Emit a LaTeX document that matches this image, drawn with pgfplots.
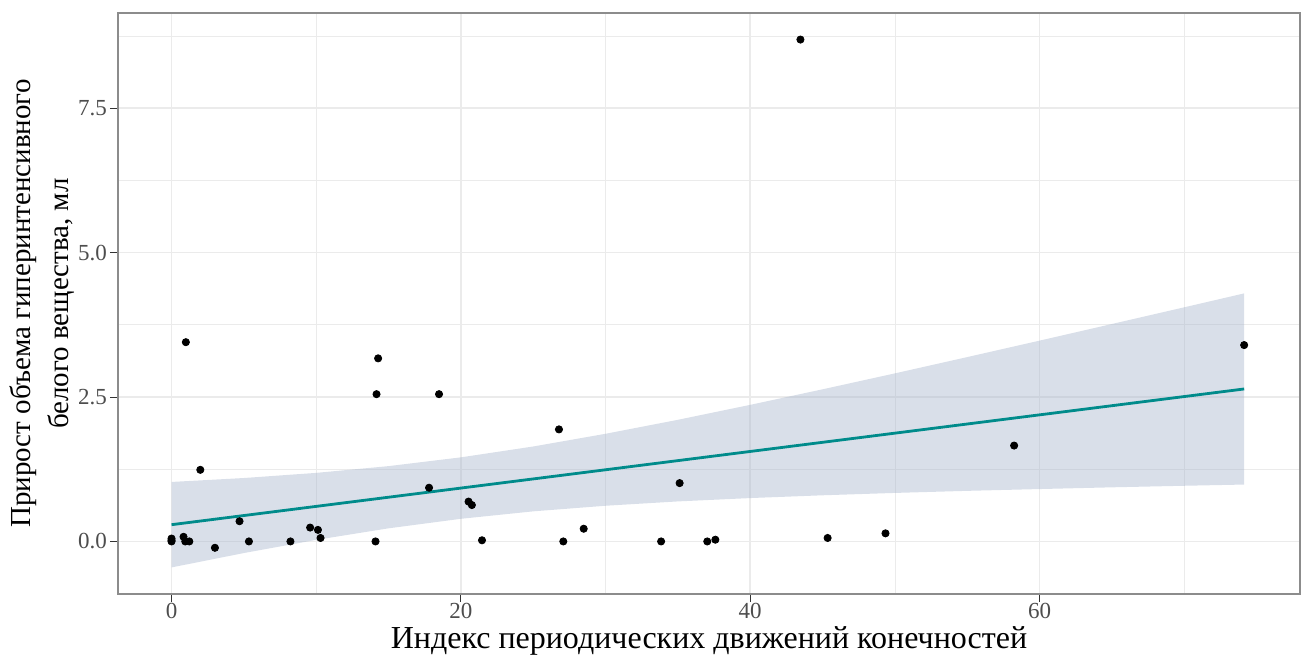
\documentclass[border=0pt]{standalone}
\usepackage{fontspec}
\setmainfont{Liberation Serif}
\usepackage{pgfplots}
\pgfplotsset{compat=1.18}
\definecolor{ribbon}{RGB}{160,175,200}
\definecolor{fitline}{RGB}{0,139,139}
\definecolor{grid92}{RGB}{235,235,235}
\definecolor{grey30}{RGB}{77,77,77}
\definecolor{grey20}{RGB}{51,51,51}
\begin{document}
\begin{tikzpicture}
\begin{axis}[
  scale only axis, width=591pt, height=290.5pt,
  xmin=-3.7, xmax=78, ymin=-0.91, ymax=9.15,
  xtick={0,20,40,60}, ytick={0,2.5,5,7.5},
  minor xtick={10,30,50,70}, minor ytick={1.25,3.75,6.25,8.75},
  xtick pos=bottom, ytick pos=left,
  grid=both,
  major grid style={grid92, line width=0.8pt},
  minor grid style={grid92, line width=0.4pt},
  axis line style={black!45, line width=0.7pt},
  tick align=outside, major tick length=4pt, minor tick length=0pt,
  tick style={grey20, line width=0.5pt},
  /pgf/number format/assume math mode=true,
  yticklabel={\pgfmathprintnumber[fixed,fixed zerofill,precision=1]{\tick}},
  ticklabel style={font=\fontsize{11.5}{13}\selectfont, text=grey30},
  xticklabel style={yshift=3pt},
  yticklabel style={xshift=2pt},
  xlabel={Индекс периодических движений конечностей},
  ylabel={Прирост объема гиперинтенсивного\\белого вещества, мл},
  xlabel style={font=\fontsize{16}{19}\selectfont, at={(axis description cs:0.5,-0.0945)}, anchor=base, inner sep=0pt},
  ylabel style={font=\fontsize{14.5}{19}\selectfont, align=center, at={(axis description cs:-0.0305,0.5)}, anchor=south},
]
\addplot[only marks, mark=*, mark size=1.8pt, color=black] coordinates {
(0,0.0) (0,0.02) (0,0.05) (0.83,0.08) (0.95,0.0) (0.99,3.45) (1.23,0.0)
(1.99,1.24) (3.0,-0.11) (4.70,0.35) (5.35,0.0) (8.22,0.0) (9.58,0.24)
(10.12,0.20) (10.30,0.06) (14.10,0.0) (14.17,2.55) (14.28,3.17) (17.80,0.93)
(18.49,2.55) (20.53,0.69) (20.76,0.63) (21.46,0.02) (26.78,1.94) (27.08,0.0)
(28.49,0.22) (33.84,0.0) (35.12,1.01) (37.03,0.0) (37.59,0.03) (43.47,8.69)
(45.35,0.06) (49.35,0.14) (58.24,1.66) (74.14,3.40)
};
\addplot[draw=none, fill=ribbon, fill opacity=0.4] coordinates {
(0,1.030) (5,1.098) (10,1.187) (15,1.304) (20,1.456) (25,1.644) (30,1.864)
(35,2.106) (40,2.365) (45,2.634) (50,2.910) (55,3.192) (60,3.477) (65,3.765)
(70,4.054) (74.14,4.295)
(74.14,0.985) (70,0.964) (65,0.937) (60,0.907) (55,0.876) (50,0.840) (45,0.799)
(40,0.751) (35,0.693) (30,0.618) (25,0.521) (20,0.392) (15,0.227) (10,0.027)
(5,-0.201) (0,-0.450)
} -- cycle;
\addplot[fitline, line width=1.4pt] coordinates {(0,0.29) (74.14,2.64)};
\coordinate (bl) at (rel axis cs:0,0);
\coordinate (tr) at (rel axis cs:1,1);
\end{axis}
\pgfresetboundingbox
\path ([xshift=-59pt,yshift=-30.5pt]bl) rectangle ([xshift=4pt,yshift=6.5pt]tr);
\end{tikzpicture}
\end{document}
